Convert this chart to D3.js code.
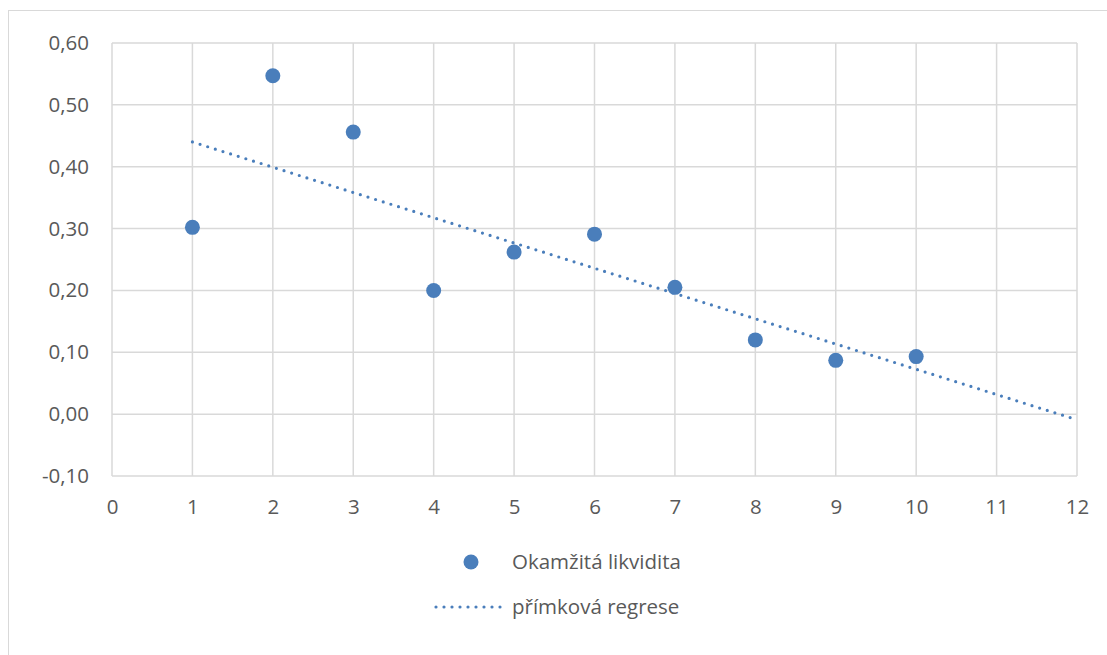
<!DOCTYPE html>
<html>
<head>
<meta charset="utf-8">
<script src="https://cdn.jsdelivr.net/npm/d3@7"></script>
<style>
  body { margin: 0; background: #fff; }
  text { font-family: "Open Sans", "Liberation Sans", sans-serif; fill: #595959; }
</style>
</head>
<body>
<div id="chart"></div>
<script>
var xValues = [1, 2, 3, 4, 5, 6, 7, 8, 9, 10];
var yValues = [0.302, 0.547, 0.456, 0.200, 0.262, 0.291, 0.205, 0.120, 0.087, 0.093];
var xTicks = [0, 1, 2, 3, 4, 5, 6, 7, 8, 9, 10, 11, 12];
var yTicks = [-0.1, 0, 0.1, 0.2, 0.3, 0.4, 0.5, 0.6];
var seriesName = 'Okamžitá likvidita';
var trendName = 'přímková regrese';

var width = 1107;
var height = 655;
var plot = { left: 112, top: 43, right: 1077, bottom: 476 };
var color = '#4a7ebb';
var fontSize = '20.5px';

var svg = d3.select('#chart')
  .append('svg')
  .attr('width', width)
  .attr('height', height);

// outer chart border
svg.append('rect')
  .attr('x', 8.5)
  .attr('y', 10.5)
  .attr('width', width + 10)
  .attr('height', height + 10)
  .attr('fill', 'none')
  .attr('stroke', '#d9d9d9');

var x = d3.scaleLinear().domain([0, 12]).range([plot.left, plot.right]);
var y = d3.scaleLinear().domain([-0.1, 0.6]).range([plot.bottom, plot.top]);

var fmt = function(d) {
  return d3.format('.2f')(d).replace('.', ',').replace('−', '-');
};

// grid lines
var grid = svg.append('g');
grid.selectAll('.hgrid')
  .data(yTicks)
  .enter()
  .append('line')
  .attr('x1', plot.left)
  .attr('x2', plot.right)
  .attr('y1', function(d) { return y(d); })
  .attr('y2', function(d) { return y(d); })
  .attr('stroke', '#d9d9d9')
  .attr('stroke-width', 1.5);

grid.selectAll('.vgrid')
  .data(xTicks)
  .enter()
  .append('line')
  .attr('y1', plot.top)
  .attr('y2', plot.bottom)
  .attr('x1', function(d) { return x(d); })
  .attr('x2', function(d) { return x(d); })
  .attr('stroke', '#d9d9d9')
  .attr('stroke-width', 1.5);

// axes labels
var yAxis = svg.append('g')
  .attr('transform', 'translate(' + plot.left + ',0)')
  .call(d3.axisLeft(y).tickValues(yTicks).tickSize(0).tickPadding(23).tickFormat(fmt));
var xAxis = svg.append('g')
  .attr('transform', 'translate(0,' + plot.bottom + ')')
  .call(d3.axisBottom(x).tickValues(xTicks).tickSize(0).tickPadding(23));

[yAxis, xAxis].forEach(function(a) {
  a.select('.domain').remove();
  a.selectAll('text')
    .style('font-size', fontSize)
    .attr('fill', '#595959');
});

// linear regression from the data
var mx = d3.mean(xValues);
var my = d3.mean(yValues);
var sxy = d3.sum(xValues, function(v, i) { return (v - mx) * (yValues[i] - my); });
var sxx = d3.sum(xValues, function(v) { return (v - mx) * (v - mx); });
var slope = sxy / sxx;
var intercept = my - slope * mx;
var trend = [1, 12].map(function(v) { return [v, intercept + slope * v]; });

svg.append('path')
  .datum(trend)
  .attr('d', d3.line()
    .x(function(d) { return x(d[0]); })
    .y(function(d) { return y(d[1]); }))
  .attr('fill', 'none')
  .attr('stroke', color)
  .attr('stroke-width', 3.2)
  .attr('stroke-linecap', 'round')
  .attr('stroke-dasharray', '0 8');

// points
svg.append('g')
  .selectAll('circle')
  .data(xValues)
  .enter()
  .append('circle')
  .attr('cx', function(d) { return x(d); })
  .attr('cy', function(d, i) { return y(yValues[i]); })
  .attr('r', 7.5)
  .attr('fill', color);

// legend
var legend = svg.append('g');
legend.append('circle')
  .attr('cx', 471)
  .attr('cy', 562)
  .attr('r', 7.5)
  .attr('fill', color);
legend.append('text')
  .attr('x', 512)
  .attr('y', 562)
  .attr('dy', '0.35em')
  .style('font-size', fontSize)
  .text(seriesName);

legend.append('line')
  .attr('x1', 436)
  .attr('x2', 504)
  .attr('y1', 607)
  .attr('y2', 607)
  .attr('stroke', color)
  .attr('stroke-width', 3.2)
  .attr('stroke-linecap', 'round')
  .attr('stroke-dasharray', '0 8');
legend.append('text')
  .attr('x', 512)
  .attr('y', 607)
  .attr('dy', '0.35em')
  .style('font-size', fontSize)
  .text(trendName);
</script>
</body>
</html>
